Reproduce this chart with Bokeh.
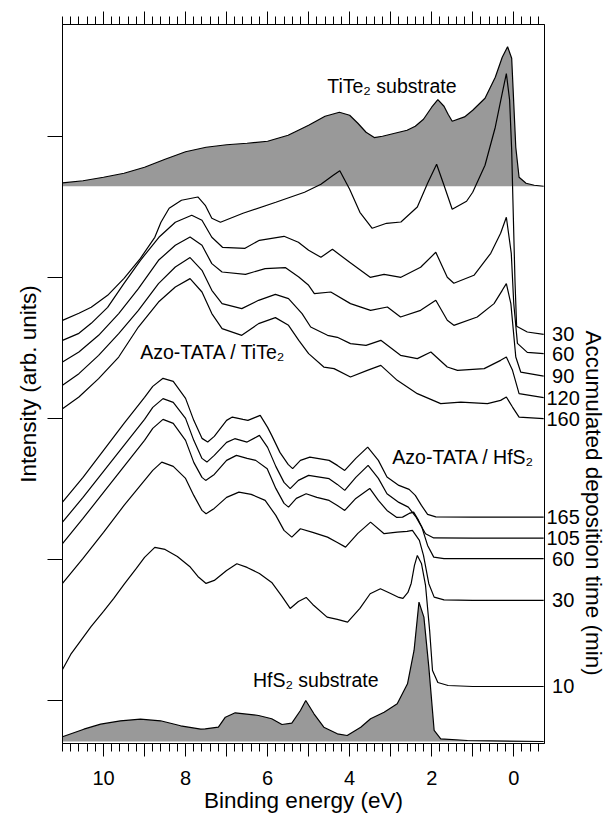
import numpy as np
from bokeh.plotting import figure
from bokeh.models import Range1d, LinearAxis, FixedTicker, Label, CustomLabelingPolicy, Title
from bokeh.embed import file_html
from bokeh.resources import INLINE

FONT = "Liberation Sans"

# ---------------- data (binding energy in eV, intensity in arb. units incl. offsets) ----------------
tite2_E = [11.0, 10.5, 10.0, 9.5, 9.0, 8.5, 8.0, 7.5, 7.0, 6.5, 6.0, 5.5, 5.0, 4.6, 4.25, 4.0, 3.8, 3.6,
           3.4, 3.2, 3.0, 2.6, 2.4, 2.2, 2.0, 1.85, 1.7, 1.6, 1.5, 1.2, 1.0, 0.7, 0.45, 0.28, 0.15, 0.05,
           -0.05, -0.13, -0.3, -0.5, -0.73]
tite2_I = [560.3, 562.5, 566, 570, 576, 584, 591.5, 596, 598.5, 600, 602, 608, 618, 627, 631, 628, 620, 611,
           605.7, 607, 609, 613, 617, 624, 636, 643.7, 637, 629, 622, 626.3, 633, 645, 666, 686, 696.5, 685,
           596, 566, 560, 558, 557]
tite2_base = 557

ti30_E = [11.0, 10.6, 10.3, 9.9, 9.5, 9.1, 8.75, 8.6, 8.4, 8.1, 7.7, 7.52, 7.36, 7.15, 6.6, 5.8, 5.1, 4.7,
          4.4, 4.24, 4.0, 3.75, 3.45, 3.1, 2.75, 2.35, 2.1, 1.88, 1.7, 1.6, 1.5, 1.15, 1.0, 0.7, 0.45, 0.28,
          0.18, 0.1, 0.05, 0.02, -0.03, -0.07, -0.33, -0.73]
ti30_I = [423, 430, 436, 448, 465, 485, 506, 521, 535, 543, 546.3, 538, 525, 521, 530, 541, 551, 559,
          568, 572.5, 554, 531, 515, 520, 521.3, 536.3, 560, 579, 558, 546, 534, 542, 551, 578, 616, 650,
          669.7, 643, 593, 543, 463, 417, 411.3, 409]

ti60_E = [11.0, 10.6, 10.3, 9.9, 9.5, 9.1, 8.65, 8.25, 7.85, 7.6, 7.36, 7.1, 6.55, 6.2, 5.6, 5.25, 5.0, 4.7,
          4.42, 4.0, 3.5, 3.16, 2.75, 2.27, 1.9, 1.62, 1.46, 0.97, 0.56, 0.32, 0.18, 0.06, 0.0, -0.09, -0.33,
          -0.73]
ti60_I = [403, 410, 420, 436, 460, 483, 506, 521, 528, 523, 506, 496, 495, 503, 507, 501, 493, 486,
          494, 481, 466, 469, 466, 476, 491, 466, 460, 468, 490, 510, 526, 490, 440, 400, 391, 389.7]

ti90_E = [11.0, 10.6, 10.12, 9.63, 9.15, 8.66, 8.25, 7.89, 7.6, 7.36, 7.11, 6.54, 6.06, 5.57, 5.24, 5.0, 4.86,
          4.46, 3.98, 3.49, 3.08, 2.76, 2.27, 1.9, 1.62, 1.46, 0.89, 0.48, 0.28, 0.18, 0.07, -0.05, -0.17, -0.73]
ti90_I = [381.3, 391.3, 408, 429.7, 454.7, 483, 498, 506.3, 498, 479.7, 471.3, 469, 474.7, 475.7, 466.3, 458,
          449.7, 451.3, 439.7, 433, 436.3, 426.3, 433, 443, 423, 418, 426.3, 439.7, 453, 459.7, 439.7, 386.3,
          371.3, 367.3]

ti120_E = [11.0, 10.6, 10.12, 9.63, 9.15, 8.66, 8.25, 7.89, 7.6, 7.36, 7.11, 6.63, 6.22, 5.81, 5.49, 5.16,
           4.95, 4.54, 4.3, 3.98, 3.6, 3.24, 2.76, 2.35, 2.02, 1.62, 1.37, 0.72, 0.32, 0.18, 0.03, -0.13, -0.73]
ti120_I = [358, 369.7, 388, 409.7, 433, 459.7, 476.3, 485.7, 473, 453, 439.7, 434.7, 443, 449, 444.7, 429.7,
           416.3, 408, 406, 399.7, 398, 403, 388, 384.7, 391.3, 376.3, 373, 374.7, 383, 386.3, 373, 349.7, 345.7]

ti160_E = [11.0, 10.6, 10.12, 9.63, 9.15, 8.66, 8.25, 7.89, 7.6, 7.36, 7.11, 6.63, 6.22, 5.81, 5.49, 5.24,
           5.0, 4.63, 4.38, 3.98, 3.57, 3.24, 2.84, 2.35, 1.78, 1.29, 0.64, 0.32, 0.18, 0.03, -0.13, -0.73]
ti160_I = [334.7, 346.3, 364.7, 386.3, 416.3, 441.3, 456.3, 464.7, 451.3, 429.7, 414.7, 408, 419.7, 425.7, 418,
           403, 389.7, 376.3, 374.7, 366.3, 373, 378, 363, 349.7, 339.7, 341.3, 339.7, 343, 346.3, 336.3,
           326.3, 324.7]

hf165_E = [11.0, 10.5, 10.0, 9.5, 9.0, 8.8, 8.55, 8.3, 8.0, 7.8, 7.6, 7.46, 7.3, 7.0, 6.86, 6.6, 6.48, 6.3,
           6.18, 6.0, 5.9, 5.7, 5.5, 5.39, 5.2, 4.97, 4.5, 4.3, 4.12, 3.85, 3.56, 3.3, 3.09, 2.8, 2.55, 2.4,
           2.25, 2.1, 1.9, 1.0, -0.73]
hf165_I = [241.3, 266, 293, 320, 346, 357, 365, 362, 345, 323, 305, 301.3, 307, 323, 326.3, 324, 323, 326,
           328, 316, 308, 291, 279, 274.7, 283, 286.3, 283, 278, 273, 285, 296.3, 283, 266.3, 258, 254, 248,
           238, 229, 226.5, 226.3, 226.3]

hf105_E = [11.0, 10.5, 10.0, 9.5, 9.0, 8.8, 8.55, 8.3, 8.0, 7.8, 7.6, 7.48, 7.3, 7.0, 6.8, 6.5, 6.2, 6.0,
           5.8, 5.6, 5.45, 5.25, 5.0, 4.5, 4.3, 4.12, 3.85, 3.55, 3.3, 3.09, 2.8, 2.57, 2.38, 2.15, 1.95, 1.0,
           -0.73]
hf105_I = [221.3, 246, 272, 298, 324, 336, 344.7, 341, 325, 303, 285, 281.3, 288, 301, 304.7, 301.3, 308, 296,
           277, 261, 254.7, 263, 268, 264.7, 259, 253, 266, 278, 265, 249.7, 241, 236.3, 226.3, 209.7, 205.5,
           205.3, 205.3]

hf60_E = [11.0, 10.5, 10.0, 9.5, 9.0, 8.8, 8.55, 8.3, 8.0, 7.8, 7.6, 7.51, 7.3, 7.0, 6.76, 6.5, 6.29, 6.01,
          5.8, 5.6, 5.49, 5.3, 5.06, 4.8, 4.5, 4.3, 4.12, 3.85, 3.51, 3.3, 3.09, 2.85, 2.71, 2.55, 2.44, 2.32,
          2.24, 2.1, 1.95, 1.7, -0.73]
hf60_I = [199.7, 225, 251, 277, 303, 315, 324, 320, 303, 281, 266, 263, 269, 283, 288, 285, 283, 274.7,
          255, 240, 236.3, 245, 249.7, 246, 243, 238, 233, 245, 255, 243, 233, 226, 226.3, 230, 231.3, 223,
          216.3, 198, 186.3, 184.8, 184.7]

hf30_E = [11.0, 10.5, 10.0, 9.5, 9.0, 8.8, 8.58, 8.3, 8.0, 7.8, 7.6, 7.5, 7.3, 7.0, 6.7, 6.4, 6.06, 5.8,
          5.6, 5.41, 5.2, 4.9, 4.54, 4.3, 4.1, 3.8, 3.49, 3.16, 2.84, 2.6, 2.47, 2.3, 2.2, 2.07, 1.94, 1.7,
          1.0, -0.73]
hf30_I = [160, 185, 211, 238, 263, 273, 281.3, 277, 265, 248, 233, 229.7, 235, 246, 251.3, 249, 243, 228,
          213, 206.3, 214.7, 211, 206.3, 201, 196.3, 210, 221.3, 209.7, 211.3, 212, 213, 203, 188, 159.7,
          146.3, 143.5, 143, 143]

hf10_E = [11.0, 10.8, 10.55, 10.3, 10.0, 9.75, 9.5, 9.2, 9.0, 8.75, 8.5, 8.2, 7.9, 7.7, 7.5, 7.3, 7.0, 6.75,
          6.5, 6.2, 5.9, 5.65, 5.45, 5.25, 5.06, 4.9, 4.55, 4.3, 4.05, 3.75, 3.5, 3.25, 3.0, 2.8, 2.7, 2.58,
          2.5, 2.42, 2.35, 2.25, 2.15, 2.05, 1.98, 1.85, 1.6, 1.0, -0.73]
hf10_I = [74, 89, 103, 117, 132, 145, 159, 175, 186, 196, 194, 187, 177, 167, 160, 163, 173, 179.7,
          176, 170, 161, 147, 135, 142, 146, 139, 126.3, 124, 121.3, 135, 149.7, 154.7, 150, 146, 145, 151,
          160, 178, 188, 180, 158, 113, 73, 61, 58, 57, 57]

hfs2_E = [11.0, 10.48, 10.07, 9.59, 9.1, 8.61, 8.12, 7.63, 7.52, 7.2, 7.03, 6.79, 6.22, 5.9, 5.65, 5.41, 5.2,
          5.07, 4.87, 4.63, 4.3, 4.06, 3.73, 3.49, 3.16, 2.84, 2.59, 2.43, 2.31, 2.19, 2.07, 1.94, 1.78, 1.13,
          -0.73]
hfs2_I = [6.7, 14.3, 19.3, 22.7, 24.3, 22.7, 17.7, 14.3, 14.7, 16.3, 26.3, 30.7, 28, 24.7, 19, 20.3, 33,
          43, 29.7, 16.3, 9.7, 8, 16.3, 24.7, 31.3, 39.7, 59.7, 93, 141.3, 126.3, 76.3, 13, 4.7, 3, 2]
hfs2_base = 2

series = [
    (ti30_E, ti30_I, "30"), (ti60_E, ti60_I, "60"), (ti90_E, ti90_I, "90"),
    (ti120_E, ti120_I, "120"), (ti160_E, ti160_I, "160"),
    (hf165_E, hf165_I, "165"), (hf105_E, hf105_I, "105"), (hf60_E, hf60_I, "60"),
    (hf30_E, hf30_I, "30"), (hf10_E, hf10_I, "10"),
]

x_ticks = list(range(0, 11))
y_ticks = [43.3, 184.05, 324.8, 465.55, 606.3]

# ---------------- figure ----------------
p = figure(frame_width=482, frame_height=719, output_backend="svg", toolbar_location=None,
           x_range=Range1d(11, -0.75), y_range=Range1d(0, 718.7),
           x_axis_location=None, y_axis_location=None,
           min_border_left=62, min_border_right=56, min_border_top=24, min_border_bottom=72)
p.grid.visible = False
p.outline_line_color = "black"
p.outline_line_width = 1
p.background_fill_color = "white"
p.border_fill_color = "white"

hide_all = CustomLabelingPolicy(code="for (const i of indices) { indices.unset(i) }\nreturn indices")
hide_odd = CustomLabelingPolicy(code="for (const i of indices) { if (i % 2 == 1) indices.unset(i) }\nreturn indices")

minor = [round(v, 1) for v in np.arange(-0.6, 11.0001, 0.2)]

def x_axis(side, show_labels):
    ax = LinearAxis(ticker=FixedTicker(ticks=x_ticks, minor_ticks=minor))
    ax.major_tick_out = 13
    ax.major_tick_in = 0
    ax.minor_tick_out = 8
    ax.minor_tick_in = 0
    ax.axis_line_color = "black"
    ax.major_tick_line_color = "black"
    ax.minor_tick_line_color = "black"
    ax.major_label_text_font = FONT
    ax.major_label_text_color = "black"
    if show_labels:
        ax.major_label_text_font_size = "20px"
        ax.major_label_policy = hide_odd
        ax.major_label_standoff = 14
        ax.axis_label = "Binding energy (eV)"
        ax.axis_label_text_font = FONT
        ax.axis_label_text_font_size = "22.5px"
        ax.axis_label_text_font_style = "normal"
        ax.axis_label_text_color = "black"
        ax.axis_label_standoff = 0
    else:
        ax.major_label_text_font_size = "0px"
        ax.major_label_policy = hide_all
        ax.major_label_standoff = 0
    p.add_layout(ax, side)

x_axis("below", True)
x_axis("above", False)

ly = LinearAxis(ticker=FixedTicker(ticks=y_ticks, minor_ticks=[]))
ly.major_tick_out = 15
ly.major_tick_in = 0
ly.minor_tick_out = 0
ly.major_label_text_font_size = "0px"
ly.major_label_policy = hide_all
ly.major_label_standoff = 0
ly.axis_line_color = "black"
ly.axis_label = "Intensity (arb. units)"
ly.axis_label_text_font = FONT
ly.axis_label_text_font_size = "22.5px"
ly.axis_label_text_font_style = "normal"
ly.axis_label_text_color = "black"
ly.axis_label_standoff = 7
p.add_layout(ly, "left")

# right axis: deposition-time labels at the curve ends
end_vals = [s[1][-1] for s in series]
end_labels = {v: ("\u00a0" + lab if len(lab) == 2 else lab) for v, (_, _, lab) in zip(end_vals, series)}
ry = LinearAxis(ticker=FixedTicker(ticks=end_vals, minor_ticks=[]))
ry.major_tick_out = 0
ry.major_tick_in = 0
ry.minor_tick_out = 0
ry.major_label_overrides = end_labels
ry.major_label_text_font = FONT
ry.major_label_text_font_size = "20px"
ry.major_label_text_color = "black"
ry.major_label_standoff = 2
ry.axis_line_color = None
p.add_layout(ry, "right")

p.add_layout(Title(text="Accumulated deposition time (min)", align="left", offset=306, standoff=-4,
                   text_font=FONT, text_font_size="22.5px", text_font_style="normal",
                   text_color="black"), "right")

# substrate fills
p.varea(x=tite2_E, y1=tite2_base, y2=tite2_I, fill_color="#999999")
p.varea(x=hfs2_E, y1=hfs2_base, y2=hfs2_I, fill_color="#999999")
p.line(tite2_E, tite2_I, line_color="black", line_width=1.2)
p.line(hfs2_E, hfs2_I, line_color="black", line_width=1.2)

for E, I, lab in series:
    p.line(E, I, line_color="black", line_width=1.2)

def ann(x, y, t, size="19.5px"):
    p.add_layout(Label(x=x, y=y, text=t, text_font=FONT, text_font_size=size,
                       text_align="left", text_baseline="middle", text_color="black"))

ann(4.546, 657, "TiTe\u2082 substrate")
ann(9.105, 391.3, "Azo-TATA / TiTe\u2082")
ann(2.959, 286.3, "Azo-TATA / HfS\u2082")
ann(6.359, 63, "HfS\u2082 substrate")

open("out.html", "w").write(file_html(p, INLINE))
